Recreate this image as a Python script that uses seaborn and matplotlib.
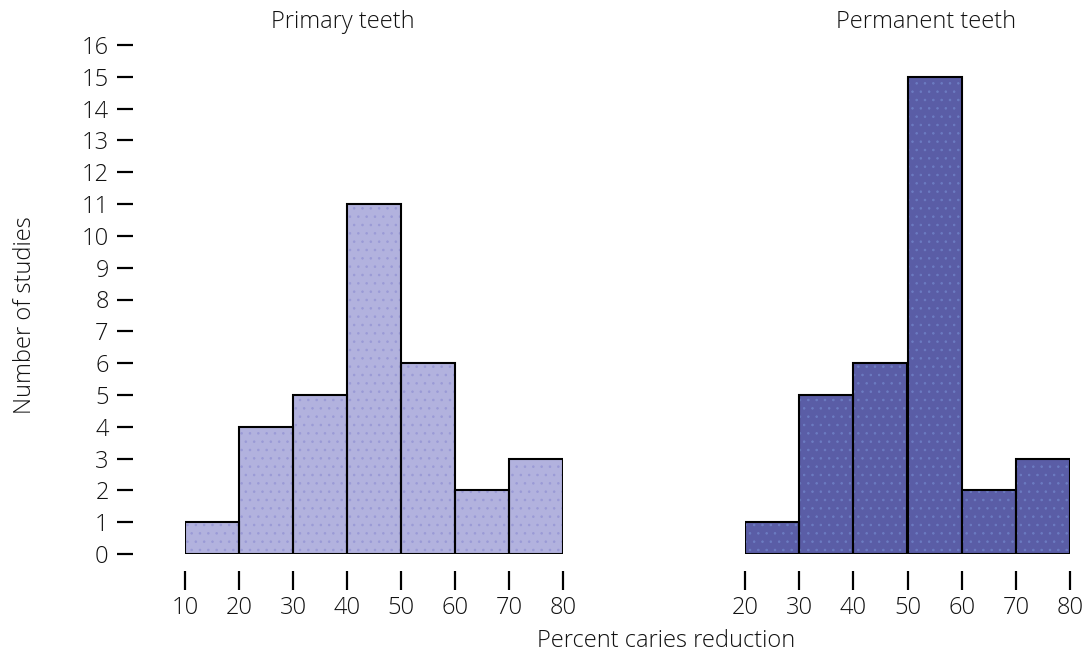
import numpy as np
import pandas as pd
import matplotlib
matplotlib.use("Agg")
import matplotlib.pyplot as plt
import seaborn as sns

# Histogram data
primary_edges = [10, 20, 30, 40, 50, 60, 70, 80]
primary_counts = [1, 4, 5, 11, 6, 2, 3]
permanent_edges = [20, 30, 40, 50, 60, 70, 80]
permanent_counts = [1, 5, 6, 15, 2, 3]
y_ticks = list(range(0, 17))

sns.set_style("white")
plt.rcParams['font.family'] = ['Open Sans', 'DejaVu Sans']
plt.rcParams['font.weight'] = 'light'
plt.rcParams['text.color'] = '#111111'
plt.rcParams['hatch.linewidth'] = 0.6

W, H = 1085, 653
PT = 72 / 100  # points per pixel at dpi 100
fig = plt.figure(figsize=(W / 100, H / 100), dpi=100)

def px_axes(x0, x1, y_top, y_bot):
    return fig.add_axes([x0 / W, 1 - y_bot / H, (x1 - x0) / W, (y_bot - y_top) / H])

ax1 = px_axes(185, 563, 45, 554)
ax2 = px_axes(745, 1070, 45, 554)

FS = 17
panels = [
    (ax1, primary_edges, primary_counts, '#b2b2de', '#9a9ad6', 'Primary teeth', 0.418),
    (ax2, permanent_edges, permanent_counts, '#5a5da6', '#6c7cc2', 'Permanent teeth', 0.557),
]

for ax, edges, counts, fc, hc, title, tx in panels:
    df = pd.DataFrame({'x': [e + 5 for e in edges[:-1]], 'n': counts})
    sns.histplot(data=df, x='x', weights='n', bins=edges, ax=ax,
                 color=fc, facecolor=fc, edgecolor=hc, linewidth=0, hatch='..', alpha=1)
    sns.histplot(data=df, x='x', weights='n', bins=edges, ax=ax,
                 fill=False, color='black', edgecolor='black', linewidth=1.5)
    ax.set_xlim(edges[0], edges[-1])
    ax.set_ylim(0, 16)
    ax.set_xticks(edges)
    ax.set_xlabel('')
    ax.set_ylabel('')
    for s in ax.spines.values():
        s.set_visible(False)
    ax.spines['bottom'].set_position(('outward', 17 * PT))
    ax.tick_params(axis='x', direction='out', length=19 * PT, width=2.2 * PT, color='black',
                   labelcolor='#111111', labelsize=FS, pad=4, bottom=True)
    ax.text(tx, 1.045, title, transform=ax.transAxes, ha='center', va='center', fontsize=FS)

ax1.spines['left'].set_position(('outward', 52 * PT))
ax1.set_yticks(y_ticks)
ax1.tick_params(axis='y', direction='out', length=16 * PT, width=2.2 * PT, color='black',
                labelcolor='#111111', labelsize=FS, pad=6, left=True)
ax2.set_yticks([])

fig.text(666 / W, 1 - 641 / H, 'Percent caries reduction', ha='center', va='center', fontsize=FS)
fig.text(25 / W, 1 - 315 / H, 'Number of studies', ha='center', va='center',
         rotation=90, fontsize=FS)

fig.savefig('out.png', dpi=100)
